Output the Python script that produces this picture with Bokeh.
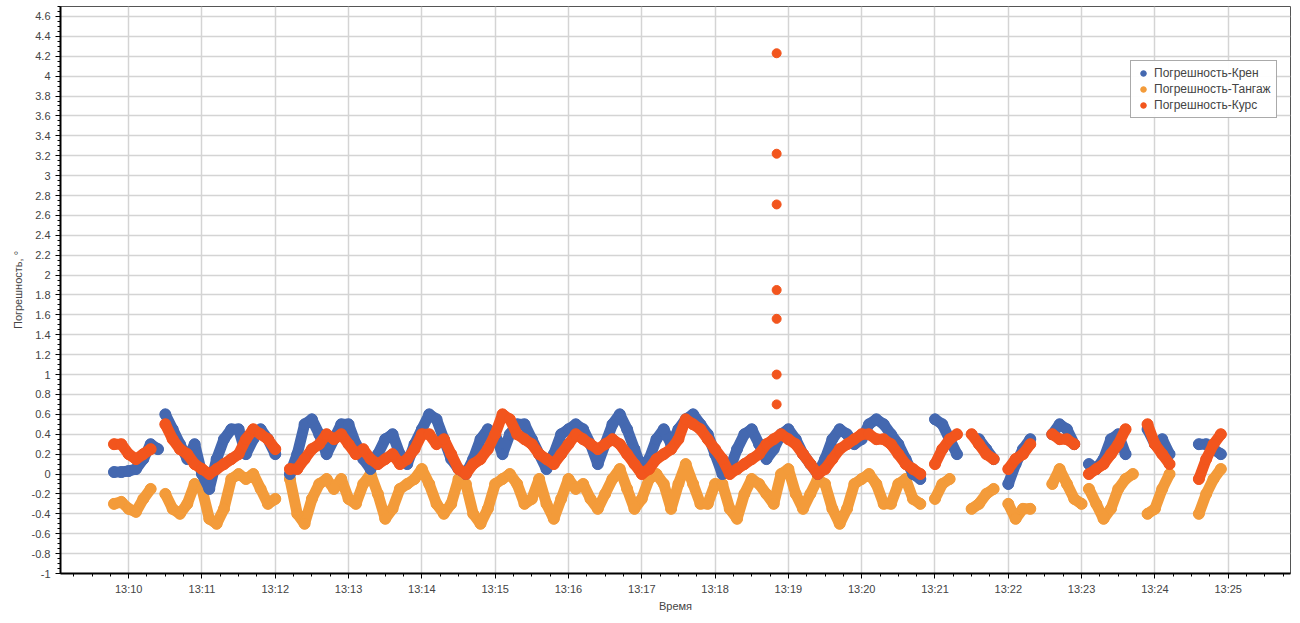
import numpy as np
from bokeh.plotting import figure
from bokeh.models import FixedTicker, Range1d, Legend, LegendItem
from bokeh.embed import file_html
from bokeh.resources import INLINE

N = float("nan")
t_kren = [9.8,9.9,10.0,10.1,10.2,10.3,10.4,N,
 10.5,10.6,10.7,10.8,10.9,11.0,11.1,11.2,11.3,11.4,11.5,11.6,11.7,11.8,11.9,12.0,N,
 12.2,12.3,12.4,12.5,12.6,12.7,12.8,12.9,13.0,13.1,13.2,13.3,13.4,13.5,13.6,13.7,13.8,13.9,14.0,14.1,14.2,14.3,14.4,14.5,14.6,14.7,14.8,14.9,15.0,15.1,15.2,15.3,15.4,15.5,15.6,15.7,15.8,15.9,16.0,16.1,16.2,16.3,16.4,16.5,16.6,16.7,16.8,16.9,17.0,17.1,17.2,17.3,17.4,17.5,17.6,17.7,17.8,17.9,18.0,18.1,18.2,18.3,18.4,18.5,18.6,18.7,18.8,18.9,19.0,19.1,19.2,19.3,19.4,19.5,19.6,19.7,19.8,19.9,20.0,20.1,20.2,20.3,20.4,20.5,20.6,20.7,20.8,N,
 21.0,21.1,21.2,21.3,N,21.6,21.7,21.8,N,22.0,22.1,22.2,22.3,N,22.6,22.7,22.8,22.9,N,
 23.1,23.2,23.3,23.4,23.5,23.6,N,23.9,24.0,24.1,24.2,N,24.6,24.7,24.8,24.9]
v_kren = [0.02,0.02,0.03,0.05,0.15,0.3,0.25,N,
 0.6,0.45,0.3,0.15,0.3,0.0,-0.15,0.15,0.35,0.45,0.45,0.2,0.35,0.45,0.35,0.2,N,
 0.0,0.2,0.5,0.55,0.4,0.2,0.35,0.5,0.5,0.3,0.15,0.05,0.2,0.35,0.4,0.2,0.1,0.3,0.45,0.6,0.55,0.35,0.15,0.05,0.0,0.15,0.35,0.45,0.4,0.2,0.4,0.5,0.5,0.35,0.2,0.05,0.2,0.4,0.45,0.5,0.45,0.3,0.1,0.3,0.5,0.6,0.45,0.25,0.05,0.15,0.35,0.45,0.3,0.45,0.55,0.6,0.5,0.4,0.2,0.0,0.05,0.25,0.4,0.45,0.3,0.15,0.25,0.4,0.45,0.35,0.2,0.1,0.0,0.15,0.35,0.45,0.4,0.3,0.35,0.5,0.55,0.5,0.4,0.3,0.15,0.0,-0.05,N,
 0.55,0.5,0.35,0.2,N,0.35,0.25,0.15,N,-0.1,0.1,0.25,0.35,N,0.4,0.5,0.45,0.3,N,
 0.1,0.05,0.15,0.35,0.4,0.2,N,0.45,0.3,0.35,0.2,N,0.3,0.3,0.25,0.2]

t_tang = [9.8,9.9,10.0,10.1,10.2,10.3,N,
 10.5,10.6,10.7,10.8,10.9,11.0,11.1,11.2,11.3,11.4,11.5,11.6,11.7,11.8,11.9,12.0,N,
 12.2,12.3,12.4,12.5,12.6,12.7,12.8,12.9,13.0,13.1,13.2,13.3,13.4,13.5,13.6,13.7,13.8,13.9,14.0,14.1,14.2,14.3,14.4,14.5,14.6,14.7,14.8,14.9,15.0,15.1,15.2,15.3,15.4,15.5,15.6,15.7,15.8,15.9,16.0,16.1,16.2,16.3,16.4,16.5,16.6,16.7,16.8,16.9,17.0,17.1,17.2,17.3,17.4,17.5,17.6,17.7,17.8,17.9,18.0,18.1,18.2,18.3,18.4,18.5,18.6,18.7,18.8,18.9,19.0,19.1,19.2,19.3,19.4,19.5,19.6,19.7,19.8,19.9,20.0,20.1,20.2,20.3,20.4,20.5,20.6,20.7,20.8,N,
 21.0,21.1,21.2,N,21.5,21.6,21.7,21.8,N,22.0,22.1,22.2,22.3,N,22.6,22.7,22.8,22.9,23.0,N,
 23.1,23.2,23.3,23.4,23.5,23.6,23.7,N,23.9,24.0,24.1,24.2,N,24.6,24.7,24.8,24.9]
v_tang = [-0.3,-0.28,-0.35,-0.38,-0.25,-0.15,N,
 -0.2,-0.35,-0.4,-0.3,-0.1,-0.15,-0.45,-0.5,-0.35,-0.05,0.0,-0.05,0.0,-0.15,-0.3,-0.25,N,
 -0.05,-0.4,-0.5,-0.25,-0.1,-0.05,-0.15,-0.05,-0.25,-0.3,-0.1,0.0,-0.2,-0.45,-0.35,-0.15,-0.1,-0.05,0.05,-0.1,-0.3,-0.4,-0.3,-0.05,-0.1,-0.4,-0.5,-0.35,-0.1,-0.05,0.0,-0.1,-0.3,-0.25,-0.05,-0.3,-0.45,-0.25,-0.05,-0.15,-0.1,-0.25,-0.35,-0.2,-0.05,0.05,-0.15,-0.35,-0.25,-0.05,0.0,-0.1,-0.35,-0.1,0.1,-0.1,-0.3,-0.3,-0.1,-0.1,-0.35,-0.45,-0.2,-0.05,-0.1,-0.2,-0.3,0.0,0.05,-0.2,-0.35,-0.2,-0.05,-0.1,-0.35,-0.5,-0.35,-0.1,-0.05,0.0,-0.1,-0.3,-0.3,-0.1,-0.05,-0.25,-0.3,N,
 -0.25,-0.1,-0.05,N,-0.35,-0.3,-0.2,-0.15,N,-0.3,-0.45,-0.35,-0.35,N,-0.1,0.05,-0.1,-0.25,-0.3,N,
 -0.15,-0.3,-0.45,-0.35,-0.15,-0.05,0.0,N,-0.4,-0.35,-0.15,0.0,N,-0.4,-0.2,-0.05,0.05]

t_kurs = [9.8,9.9,10.0,10.1,10.2,10.3,N,
 10.5,10.6,10.7,10.8,10.9,11.0,11.1,11.2,11.3,11.4,11.5,11.6,11.7,11.8,11.9,12.0,N,
 12.2,12.3,12.4,12.5,12.6,12.7,12.8,12.9,13.0,13.1,13.2,13.3,13.4,13.5,13.6,13.7,13.8,13.9,14.0,14.1,14.2,14.3,14.4,14.5,14.6,14.7,14.8,14.9,15.0,15.1,15.2,15.3,15.4,15.5,15.6,15.7,15.8,15.9,16.0,16.1,16.2,16.3,16.4,16.5,16.6,16.7,16.8,16.9,17.0,17.1,17.2,17.3,17.4,17.5,17.6,17.7,17.8,17.9,18.0,18.1,18.2,18.3,18.4,18.5,18.6,18.7,18.8,18.9,19.0,19.1,19.2,19.3,19.4,19.5,19.6,19.7,19.8,19.9,20.0,20.1,20.2,20.3,20.4,20.5,20.6,20.7,20.8,N,
 21.0,21.1,21.2,21.3,N,21.5,21.6,21.7,21.8,N,22.0,22.1,22.2,22.3,N,22.6,22.7,22.8,22.9,N,
 23.1,23.2,23.3,23.4,23.5,23.6,N,23.9,24.0,24.1,24.2,N,24.6,24.7,24.8,24.9]
v_kurs = [0.3,0.3,0.2,0.15,0.2,0.25,N,
 0.5,0.35,0.25,0.2,0.1,0.05,0.0,0.05,0.1,0.15,0.2,0.35,0.45,0.4,0.35,0.25,N,
 0.05,0.05,0.15,0.25,0.3,0.4,0.35,0.4,0.3,0.2,0.25,0.15,0.1,0.15,0.2,0.1,0.15,0.25,0.4,0.4,0.3,0.35,0.2,0.05,0.0,0.1,0.15,0.25,0.4,0.6,0.55,0.4,0.35,0.3,0.2,0.15,0.1,0.2,0.3,0.4,0.35,0.3,0.25,0.3,0.35,0.3,0.2,0.1,0.0,0.05,0.15,0.2,0.25,0.35,0.55,0.5,0.45,0.35,0.25,0.15,0.0,0.05,0.1,0.15,0.2,0.3,0.35,0.4,0.35,0.3,0.2,0.1,0.0,0.05,0.15,0.25,0.3,0.35,0.4,0.4,0.35,0.35,0.3,0.2,0.1,0.05,0.0,N,
 0.1,0.25,0.35,0.4,N,0.4,0.3,0.2,0.15,N,0.05,0.15,0.2,0.3,N,0.4,0.35,0.35,0.3,N,
 0.0,0.05,0.1,0.2,0.3,0.45,N,0.5,0.3,0.2,0.1,N,-0.05,0.15,0.3,0.4]

t_spike = [18.84]*7
v_spike = [4.23,3.22,2.71,1.85,1.56,1.0,0.7]

y_ticks = [round(-1 + 0.2*i, 1) for i in range(29)]
x_ticks = list(range(10, 26))
x_labels = ["13:%02d" % m for m in x_ticks]

names = ["Погрешность-Крен", "Погрешность-Тангаж", "Погрешность-Курс"]
colors = ["#4468b0", "#f39b3a", "#f2551d"]

FONT = "Liberation Sans"
p = figure(width=1292, height=614, output_backend="svg", toolbar_location=None,
           x_range=Range1d(9.07, 25.85), y_range=Range1d(-1, 4.7),
           min_border_left=60, min_border_right=2, min_border_top=6, min_border_bottom=2)
p.xaxis.ticker = FixedTicker(ticks=x_ticks, minor_ticks=[9.25 + 0.25*i for i in range(67)])
p.xaxis.major_label_overrides = {m: l for m, l in zip(x_ticks, x_labels)}
p.yaxis.ticker = FixedTicker(ticks=y_ticks, minor_ticks=[round(-1 + 0.05*i, 2) for i in range(115)])
p.yaxis.major_label_overrides = {v: ("%g" % v) for v in y_ticks}
for ax in (p.xaxis[0], p.yaxis[0]):
    ax.axis_line_width = 2
    ax.axis_line_color = "black"
    ax.major_label_text_font = FONT
    ax.major_label_text_font_size = "11px"
    ax.axis_label_text_font = FONT
    ax.axis_label_text_font_size = "11px"
    ax.axis_label_text_font_style = "normal"
    ax.major_tick_in = 0
    ax.major_tick_out = 5
    ax.minor_tick_out = 3
p.xaxis.axis_label = "Время"
p.yaxis.axis_label = "Погрешность, °"
p.xaxis.axis_label_standoff = 2
p.xaxis.major_label_standoff = 4
p.grid.grid_line_color = "#d4d4d4"
p.grid.grid_line_width = 1.5
p.outline_line_color = "#555555"

rends = []
for (tx, vy), c in zip([(t_tang, v_tang), (t_kren, v_kren), (t_kurs, v_kurs)],
                       [colors[1], colors[0], colors[2]]):
    p.line(tx, vy, line_color=c, line_width=11, line_cap="round", line_join="round")
    r = p.scatter([a for a in tx if a == a], [b for b in vy if b == b], size=11, color=c)
    rends.append(r)
rs = p.scatter(t_spike, v_spike, size=9, color=colors[2])

legend = Legend(items=[LegendItem(label=names[0], renderers=[rends[1]]),
                       LegendItem(label=names[1], renderers=[rends[0]]),
                       LegendItem(label=names[2], renderers=[rends[2]])],
                location=(1070, 455), label_text_font=FONT, label_text_font_size="12px",
                border_line_color="#555555", glyph_width=14, glyph_height=14,
                label_height=14, spacing=2, padding=5, margin=0, label_standoff=4)
p.add_layout(legend)

open("out.html", "w").write(file_html(p, INLINE))
